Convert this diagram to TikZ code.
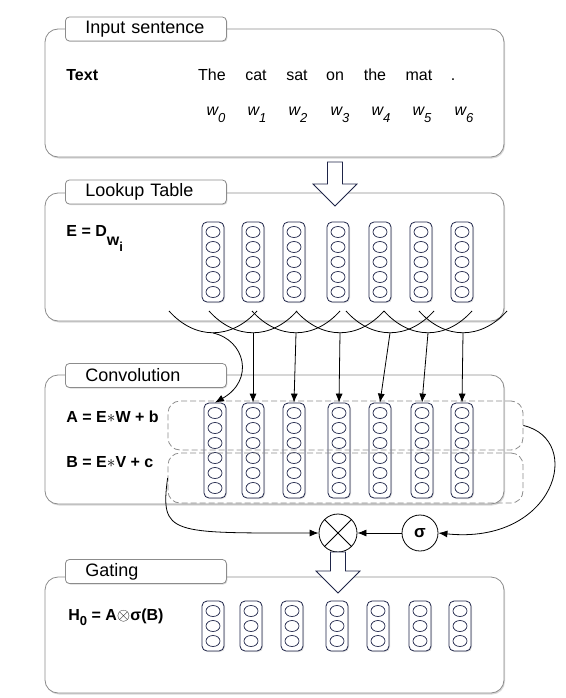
\documentclass[tikz,border=0pt]{standalone}
\usepackage{fontspec}
\setmainfont{Liberation Sans}
\usepackage{amsmath}
\usepackage{tikz}
\usetikzlibrary{arrows.meta}
\usetikzlibrary{shadows}
\definecolor{navy}{RGB}{30,36,72}
\definecolor{frame}{RGB}{140,140,140}

% hollow block arrow: x, y of tail, y of tip
\newcommand{\hollowarrow}[3]{%
	\draw[navy,fill=white,line width=0.8pt] (#1-7.5,#2) -- (#1+7.5,#2) -- (#1+7.5,#3-22) -- (#1+22,#3-22)
	-- (#1,#3) -- (#1-22,#3-22) -- (#1-7.5,#3-22) -- cycle;}

\begin{document}
\begin{tikzpicture}[x=1pt,y=-1pt,line width=0.8pt,>={Latex[length=9pt,width=7pt]},
	font=\fontsize{16}{19}\selectfont]
			
			\tikzstyle{panel} = [draw=frame,fill=white,rounded corners=13pt,minimum width=459pt,
			drop shadow={shadow xshift=1pt,shadow yshift=-1.5pt,opacity=0.3}]
			\tikzstyle{tab} = [draw=frame,fill=white,rounded corners=4pt,minimum height=24pt,text width=121pt,
			inner xsep=20pt,align=left,anchor=west,font=\fontsize{18}{21}\selectfont,
			drop shadow={shadow xshift=1pt,shadow yshift=-1pt,opacity=0.3}]
			\tikzstyle{vecbox} = [draw=navy,fill=white,rounded corners=5pt,minimum width=22pt,inner sep=0pt,
			drop shadow={shadow xshift=1pt,shadow yshift=-1pt,opacity=0.25}]
			\tikzstyle{unit} = [draw=navy,line width=0.7pt]
			\tikzstyle{window} = [draw=frame,dashed,dash pattern=on 6pt off 3pt,rounded corners=12pt,
			minimum width=355pt,inner sep=0pt]
			\tikzstyle{op} = [draw,circle,fill=white,inner sep=0pt]
			\tikzstyle{formula} = [anchor=base west,inner sep=0pt,font=\fontsize{16}{19}\selectfont\bfseries]
			
			\useasboundingbox (0,0) rectangle (565,698);
			
			% panels
			\node[panel,minimum height=128pt] (inputpanel) at (274.5,93) {};
			\node[panel,minimum height=128pt] (lookuppanel) at (274.5,257) {};
			\node[panel,minimum height=129pt] (convpanel) at (274.5,439.5) {};
			\node[panel,minimum height=116pt] (gatepanel) at (274.5,635) {};
			\node[tab] (inputtab) at (65,29) {Input sentence};
			\node[tab] (lookuptab) at (65,192) {Lookup Table};
			\node[tab] (convtab) at (65,375.5) {Convolution};
			\node[tab] (gatetab) at (65,571.5) {Gating};
			
			% input sentence
			\node[formula] (textlbl) at (66,81) {Text};
			\foreach \w/\x [count=\i from 0] in {The/212,cat/256,sat/297,on/335,the/375,mat/419,./453}
			\node[anchor=base] (tok\i) at (\x,81) {\w};
			\foreach \x [count=\i from 0] in {216,257,298,340,381,422,464}
			\node[anchor=base] (w\i) at (\x,115) {\itshape w\raisebox{-7pt}{\fontsize{13}{13}\selectfont\itshape\i}};
			
			\hollowarrow{335}{162}{206}
			
			% lookup table
			\node[formula] (elbl) at (66,236)
			{E = D\raisebox{-9pt}{w\raisebox{-6pt}{\fontsize{13}{13}\selectfont i}}};
			\foreach \x [count=\i] in {213,253,294,338,380,421,462} {
				\node[vecbox,minimum height=80pt] (emb\i) at (\x,262) {};
				\foreach \k in {0,...,4}
				\draw[unit] (\x,232+15*\k) ellipse (7pt and 5.5pt);
			}
			
			% windows
			\foreach \c [count=\i] in {213,253,296,340,390,428,463} {
				\draw (\c-44,311) .. controls (\c-18,340) and (\c+18,340) .. (\c+44,311);
				\coordinate (win\i) at (\c,333);
			}
			
			% convolution
			\node[formula] (albl) at (66,422) {A = E$\ast$W + b};
			\node[formula] (blbl) at (66,467) {B = E$\ast$V + c};
			\foreach \x [count=\i] in {215,253,294,339,380,422,462} {
				\node[vecbox,minimum height=95pt] (conv\i) at (\x,450.5) {};
				\foreach \k in {0,...,5}
				\draw[unit] (\x,413+15*\k) ellipse (7pt and 5.5pt);
			}
			\node[window,minimum height=49pt] (abox) at (345.5,425.5) {};
			\node[window,minimum height=50pt] (bbox) at (345.5,478) {};
			
			\draw[->] (win1) .. controls (245,340) and (255,380) .. (conv1.north);
			\foreach \i in {2,...,7}
			\draw[->] (win\i) -- (conv\i.north);
			
			% gate
			\node[op,minimum size=38pt] (mul) at (338,533) {};
			\draw (mul.north west) -- (mul.south east) (mul.north east) -- (mul.south west);
			\node[op,minimum size=36pt,font=\fontsize{17}{19}\selectfont\bfseries] (sig) at (420,533) {σ};
			\draw[->] (sig) -- (mul);
			\draw[->] (abox.east) .. controls (585,440) and (555,545) .. (sig.east);
			\draw[->] (bbox.west) .. controls (160,535) and (170,533) .. (mul.west);
			
			\hollowarrow{338}{552}{593}
			
			% gating
			\node[formula] (hlbl) at (68,620)
			{H\raisebox{-5pt}{\fontsize{13}{13}\selectfont 0} = A$\otimes$σ(B)};
			\foreach \x [count=\i] in {213,251,292,337,378,420,460} {
				\node[vecbox,minimum height=50pt] (out\i) at (\x,626) {};
				\foreach \k in {0,...,2}
				\draw[unit] (\x,611+15*\k) ellipse (7pt and 5.5pt);
			}
		\end{tikzpicture}
\end{document}
